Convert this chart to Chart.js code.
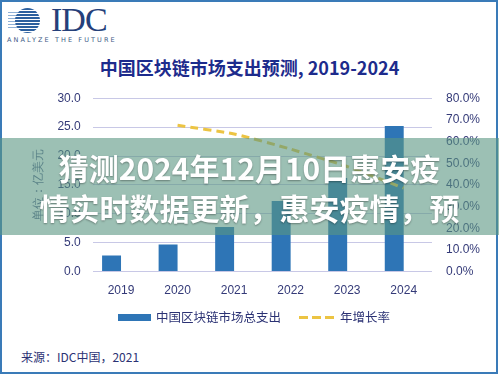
<!DOCTYPE html>
<html>
<head>
<meta charset="utf-8">
<script src="https://cdn.jsdelivr.net/npm/chart.js@4"></script>
<style>
  html, body { margin: 0; padding: 0; background: #fff; }
  body { width: 499px; height: 375px; position: relative; overflow: hidden;
         font-family: "Noto Sans CJK SC", "Noto Sans", sans-serif; }
  #frame { position: absolute; left: 0; top: 0; width: 494px; height: 370px;
           border: 2px solid #3a7bb8; }
  #sphere { position: absolute; left: 15px; top: 8px; width: 25px; height: 25px; border-radius: 50%;
            background: repeating-linear-gradient(to bottom, #2c5f9e 0 2px, #fff 2px 3px); }
  #stripes { position: absolute; left: 8px; top: 12px; width: 10px; height: 17px;
             background: repeating-linear-gradient(to bottom, #8fb0d6 0 1px, #fff 1px 3px); }
  #idc { position: absolute; left: 51px; top: 1px; font-family: "Liberation Serif", serif;
         font-size: 34px; color: #25407a; letter-spacing: -1px; }
  #tag { position: absolute; left: 7px; top: 36px; font-family: "DejaVu Sans", sans-serif;
         font-size: 6.5px; letter-spacing: 2.1px; color: #3d5a86; }
  #title { position: absolute; left: 0; width: 499px; top: 54px; text-align: center;
           font-size: 18px; font-weight: bold; color: #1d2b8c; }
  #wrap { position: absolute; left: 0; top: 77px; width: 499px; height: 232px; }
  .leg { position: absolute; font-size: 12.5px; color: #2b3274; line-height: 16px; }
  #band { position: absolute; left: 0; top: 138px; width: 499px; height: 97px;
          background: rgba(90, 150, 130, 0.6); z-index: 5; }
  #band div { text-align: center; color: #fff; font-weight: bold; font-size: 30px;
              line-height: 40px; text-shadow: 0 1px 2px rgba(0,0,0,0.35); white-space: nowrap; }
</style>
</head>
<body>
<div id="frame"></div>
<div id="stripes"></div>
<div id="sphere"></div>
<div id="idc">IDC</div>
<div id="tag">ANALYZE THE FUTURE</div>
<div id="title">中国区块链市场支出预测, 2019-2024</div>

<div id="wrap"><canvas id="chart"></canvas></div>

<div class="leg" style="left:118px; top:314px; width:33px; height:7px; background:#2e75b6;"></div>
<div class="leg" style="left:156px; top:309px;">中国区块链市场总支出</div>
<div class="leg" style="left:299px; top:316px; width:36px; height:3px;
     background:repeating-linear-gradient(to right, #ecc443 0 9px, transparent 9px 13px);"></div>
<div class="leg" style="left:340px; top:309px;">年增长率</div>
<div class="leg" style="left:21px; top:349px; font-size:12px;">来源：IDC中国，2021</div>

<div id="band">
  <div style="padding-top:9px;">猜测2024年12月10日惠安疫</div>
  <div>情实时数据更新，惠安疫情，预</div>
</div>

<script>
const years = ['2019', '2020', '2021', '2022', '2023', '2024'];
const spending = [2.8, 4.7, 7.7, 12.2, 16.2, 25.2];      // 亿美元
const growthRate = [null, 67.5, 63.5, 56.5, 48.5, 38.5]; // %
const spacer = [null, null, null, null, null, null];     // empty slot next to each bar

const tickColor = '#343a78';
const ctx = document.getElementById('chart').getContext('2d');

new Chart(ctx, {
    type: 'bar',
    data: {
        labels: years,
        datasets: [{
            label: '中国区块链市场总支出',
            data: spending,
            backgroundColor: '#2e75b6',
            categoryPercentage: 0.67,
            barPercentage: 1.0,
            yAxisID: 'y',
            order: 2
        }, {
            label: '',
            data: spacer,
            categoryPercentage: 0.67,
            barPercentage: 1.0,
            yAxisID: 'y',
            order: 3
        }, {
            type: 'line',
            label: '年增长率',
            data: growthRate,
            borderColor: '#ecc443',
            borderWidth: 3,
            borderDash: [8, 5],
            pointRadius: 0,
            tension: 0.2,
            fill: false,
            yAxisID: 'y1',
            order: 1
        }]
    },
    options: {
        responsive: true,
        maintainAspectRatio: false,
        animation: false,
        layout: { padding: { left: 28, right: 5, top: 12, bottom: 7 } },
        plugins: {
            legend: { display: false },
            tooltip: { enabled: false }
        },
        scales: {
            x: {
                grid: { display: false },
                border: { display: false },
                ticks: { color: tickColor, font: { size: 12 }, padding: 4 }
            },
            y: {
                position: 'left',
                min: 0,
                max: 30,
                ticks: {
                    stepSize: 5,
                    color: tickColor,
                    font: { size: 12 },
                    padding: 12,
                    callback: v => v.toFixed(1)
                },
                grid: { color: '#c8c8e6', drawTicks: false },
                border: { display: false },
                title: {
                    display: true,
                    text: '单位：亿美元',
                    color: '#5a6590',
                    font: { size: 12 },
                    padding: { top: 3, bottom: 0 }
                }
            },
            y1: {
                position: 'right',
                min: 0,
                max: 80,
                ticks: {
                    stepSize: 10,
                    color: tickColor,
                    font: { size: 12 },
                    padding: 14,
                    callback: v => v.toFixed(1) + '%'
                },
                grid: { display: false, drawTicks: false },
                border: { display: false }
            }
        }
    }
});
</script>
</body>
</html>
